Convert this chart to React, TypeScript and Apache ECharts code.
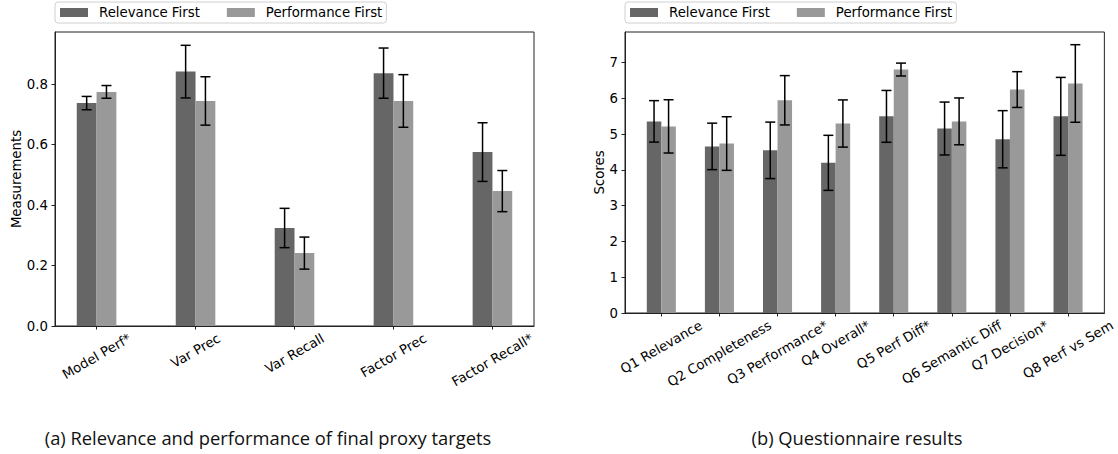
import React, { useEffect, useRef } from "react";
import * as echarts from "echarts";

const seriesNames = ["Relevance First", "Performance First"];

const leftCats = ["Model Perf*", "Var Prec", "Var Recall", "Factor Prec", "Factor Recall*"];
const leftRel = [0.737, 0.841, 0.324, 0.836, 0.575];
const leftRelErr = [0.022, 0.087, 0.065, 0.083, 0.097];
const leftPerf = [0.774, 0.744, 0.241, 0.744, 0.446];
const leftPerfErr = [0.021, 0.08, 0.053, 0.087, 0.068];
const leftYTicks = [0, 0.2, 0.4, 0.6, 0.8];

const rightCats = [
  "Q1 Relevance",
  "Q2 Completeness",
  "Q3 Performance*",
  "Q4 Overall*",
  "Q5 Perf Diff*",
  "Q6 Semantic Diff",
  "Q7 Decision*",
  "Q8 Perf vs Sem",
];
const rightRel = [5.36, 4.66, 4.55, 4.2, 5.5, 5.16, 4.86, 5.5];
const rightRelErr = [0.58, 0.65, 0.79, 0.77, 0.725, 0.74, 0.8, 1.09];
const rightPerf = [5.22, 4.74, 5.95, 5.3, 6.81, 5.36, 6.25, 6.42];
const rightPerfErr = [0.745, 0.75, 0.69, 0.66, 0.18, 0.655, 0.5, 1.085];
const rightYTicks = [0, 1, 2, 3, 4, 5, 6, 7];

const captions = ["(a) Relevance and performance of final proxy targets", "(b) Questionnaire results"];

const FONT = "DejaVu Sans";
const FS = 13.3;
const CAP_FONT = "Open Sans";
const DARK = "#666666";
const LIGHT = "#999999";
const FRAME = "#222222";

let measureCtx: CanvasRenderingContext2D | null = null;
function textWidth(t: string, fs: number = FS, family: string = FONT): number {
  if (!measureCtx) {
    const c = document.createElement("canvas");
    measureCtx = c.getContext("2d");
  }
  if (!measureCtx) return t.length * fs * 0.6;
  measureCtx.font = `${fs}px "${family}"`;
  return measureCtx.measureText(t).width;
}

function barRenderer(offset: number, width: number, color: string) {
  return (params: any, api: any) => {
    const x = api.value(0);
    const v = api.value(1);
    const e = api.value(2);
    const p0 = api.coord([x + offset - width / 2, v]);
    const p1 = api.coord([x + offset + width / 2, 0]);
    const top = api.coord([x + offset, v + e]);
    const bot = api.coord([x + offset, v - e]);
    const cap = 5;
    const ls = { stroke: "#000", lineWidth: 1.5 };
    return {
      type: "group",
      children: [
        {
          type: "rect",
          shape: { x: p0[0], y: p0[1], width: p1[0] - p0[0], height: p1[1] - p0[1] },
          style: { fill: color },
        },
        { type: "line", shape: { x1: top[0], y1: top[1], x2: bot[0], y2: bot[1] }, style: ls },
        { type: "line", shape: { x1: top[0] - cap, y1: top[1], x2: top[0] + cap, y2: top[1] }, style: ls },
        { type: "line", shape: { x1: bot[0] - cap, y1: bot[1], x2: bot[0] + cap, y2: bot[1] }, style: ls },
      ],
    };
  };
}

// rich styles that place each rotated label centred under its tick (like matplotlib ha="center")
function labelRich(cats: string[]) {
  const rich: Record<string, any> = {};
  const th = Math.PI / 6;
  cats.forEach((c, i) => {
    const W = textWidth(c);
    const h = FS * 1.164;
    const bboxH = W * Math.sin(th) + h * Math.cos(th);
    const D = bboxH / 2;
    const b = D * Math.cos(th);
    const a = D * Math.sin(th);
    rich["l" + i] = {
      fontSize: FS,
      fontFamily: FONT,
      color: "#000",
      padding: [2 * b, 2 * a, 0, 0],
    };
  });
  return rich;
}

function xAxisCfg(gridIndex: number, cats: string[], min: number, max: number) {
  const ticks = cats.map((_, i) => i);
  return {
    type: "value",
    gridIndex,
    min,
    max,
    axisLine: { show: true, onZero: false, lineStyle: { color: FRAME, width: 1 } },
    axisTick: { show: true, length: 3.5, customValues: ticks, lineStyle: { color: FRAME, width: 1 } },
    axisLabel: {
      show: true,
      customValues: ticks,
      rotate: 30,
      margin: 4.5,
      align: "center",
      verticalAlign: "middle",
      fontSize: FS,
      fontFamily: FONT,
      color: "#000",
      formatter: (v: number) => {
        const i = Math.round(v);
        return `{l${i}|${cats[i]}}`;
      },
      rich: labelRich(cats),
    },
    splitLine: { show: false },
  };
}

function yAxisCfg(gridIndex: number, max: number, ticks: number[], name: string, nameGap: number, digits: number) {
  return {
    type: "value",
    gridIndex,
    min: 0,
    max,
    name,
    nameLocation: "middle",
    nameGap,
    nameRotate: 90,
    nameTextStyle: { color: "#000", fontSize: FS, fontFamily: FONT },
    axisLine: { show: true, onZero: false, lineStyle: { color: FRAME, width: 1 } },
    axisTick: { show: true, length: 3.5, customValues: ticks, lineStyle: { color: FRAME, width: 1 } },
    axisLabel: {
      show: true,
      customValues: ticks,
      margin: 7,
      color: "#000",
      fontSize: FS,
      fontFamily: FONT,
      formatter: (v: number) => v.toFixed(digits),
    },
    splitLine: { show: false },
  };
}

function legendCfg(left: number) {
  return {
    data: seriesNames,
    left,
    top: 2,
    orient: "horizontal",
    icon: "rect",
    itemWidth: 28,
    itemHeight: 9,
    itemGap: 27,
    padding: [4, 4, 4, 5],
    borderColor: "#d0d0d0",
    borderWidth: 1,
    borderRadius: 3,
    backgroundColor: "#fff",
    selectedMode: false,
    textStyle: { color: "#000", fontSize: FS, fontFamily: FONT, padding: [0, 0, 0, 6] },
  };
}

export default function App() {
  const ref = useRef<HTMLDivElement>(null);
  useEffect(() => {
    if (!ref.current) return;
    const chart = echarts.init(ref.current, null, { renderer: "svg" });
    const bw = (arr: number[], err: number[]) => arr.map((v, i) => [i, v, err[i]]);
    const capFs = (17 * 447) / textWidth(captions[0], 17, CAP_FONT);
    const option = {
      animation: false,
      backgroundColor: "#fff",
      textStyle: { fontFamily: FONT },
      grid: [
        { left: 55, top: 32, width: 479, height: 294, show: true, borderColor: FRAME, borderWidth: 1, backgroundColor: "transparent" },
        { left: 625, top: 32, width: 482, height: 281, show: true, borderColor: FRAME, borderWidth: 1, backgroundColor: "transparent" },
      ],
      legend: [legendCfg(55), legendCfg(625)],
      xAxis: [xAxisCfg(0, leftCats, -0.42, 4.42), xAxisCfg(1, rightCats, -0.625, 7.625)],
      yAxis: [
        yAxisCfg(0, 0.972, leftYTicks, "Measurements", 32, 1),
        yAxisCfg(1, 7.86, rightYTicks, "Scores", 18, 0),
      ],
      series: [
        {
          type: "custom",
          name: seriesNames[0],
          xAxisIndex: 0,
          yAxisIndex: 0,
          clip: false,
          itemStyle: { color: DARK },
          renderItem: barRenderer(-0.1, 0.2, DARK),
          data: bw(leftRel, leftRelErr),
        },
        {
          type: "custom",
          name: seriesNames[1],
          xAxisIndex: 0,
          yAxisIndex: 0,
          clip: false,
          itemStyle: { color: LIGHT },
          renderItem: barRenderer(0.1, 0.2, LIGHT),
          data: bw(leftPerf, leftPerfErr),
        },
        {
          type: "custom",
          name: seriesNames[0],
          xAxisIndex: 1,
          yAxisIndex: 1,
          clip: false,
          itemStyle: { color: DARK },
          renderItem: barRenderer(-0.125, 0.25, DARK),
          data: bw(rightRel, rightRelErr),
        },
        {
          type: "custom",
          name: seriesNames[1],
          xAxisIndex: 1,
          yAxisIndex: 1,
          clip: false,
          itemStyle: { color: LIGHT },
          renderItem: barRenderer(0.125, 0.25, LIGHT),
          data: bw(rightPerf, rightPerfErr),
        },
      ],
      graphic: [
        {
          type: "text",
          x: 268,
          y: 437,
          style: { text: captions[0], fill: "#111", fontSize: capFs, fontFamily: CAP_FONT, align: "center", verticalAlign: "middle" },
        },
        {
          type: "text",
          x: 857,
          y: 437,
          style: { text: captions[1], fill: "#111", fontSize: capFs, fontFamily: CAP_FONT, align: "center", verticalAlign: "middle" },
        },
      ],
    };
    chart.setOption(option as any);
    return () => chart.dispose();
  }, []);
  return <div ref={ref} style={{ position: "fixed", left: 0, top: 0, width: 1118, height: 454 }} />;
}
